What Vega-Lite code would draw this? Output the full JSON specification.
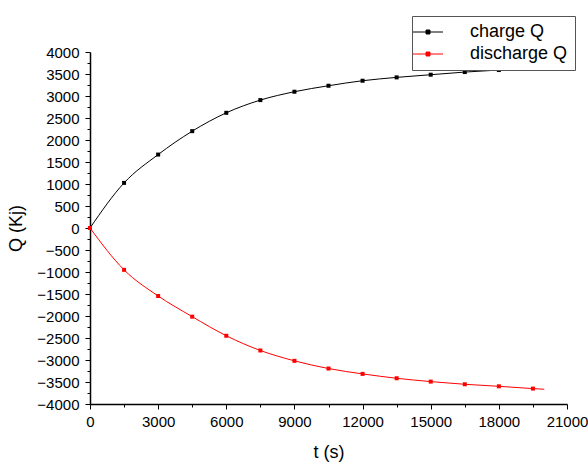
{
  "$schema": "https://vega.github.io/schema/vega-lite/v6.json",
  "width": 477,
  "height": 352,
  "autosize": "none",
  "padding": {"left": 90, "top": 52, "right": 21, "bottom": 58},
  "background": "white",
  "config": {"view": {"stroke": null}, "font": "Liberation Sans"},
  "datasets": {
    "curve": [
      {"series": "charge Q", "t": 0, "Q": 0},
      {"series": "charge Q", "t": 1500, "Q": 1025},
      {"series": "charge Q", "t": 3000, "Q": 1669},
      {"series": "charge Q", "t": 4500, "Q": 2201},
      {"series": "charge Q", "t": 6000, "Q": 2618},
      {"series": "charge Q", "t": 7500, "Q": 2907},
      {"series": "charge Q", "t": 9000, "Q": 3097},
      {"series": "charge Q", "t": 10500, "Q": 3233},
      {"series": "charge Q", "t": 12000, "Q": 3347},
      {"series": "charge Q", "t": 13500, "Q": 3423},
      {"series": "charge Q", "t": 15000, "Q": 3484},
      {"series": "charge Q", "t": 16500, "Q": 3544},
      {"series": "charge Q", "t": 18000, "Q": 3590},
      {"series": "charge Q", "t": 19500, "Q": 3628},
      {"series": "charge Q", "t": 20000, "Q": 3637},
      {"series": "discharge Q", "t": 0, "Q": 0},
      {"series": "discharge Q", "t": 1500, "Q": -951},
      {"series": "discharge Q", "t": 3000, "Q": -1545},
      {"series": "discharge Q", "t": 4500, "Q": -2015},
      {"series": "discharge Q", "t": 6000, "Q": -2449},
      {"series": "discharge Q", "t": 7500, "Q": -2784},
      {"series": "discharge Q", "t": 9000, "Q": -3019},
      {"series": "discharge Q", "t": 10500, "Q": -3194},
      {"series": "discharge Q", "t": 12000, "Q": -3316},
      {"series": "discharge Q", "t": 13500, "Q": -3415},
      {"series": "discharge Q", "t": 15000, "Q": -3491},
      {"series": "discharge Q", "t": 16500, "Q": -3552},
      {"series": "discharge Q", "t": 18000, "Q": -3598},
      {"series": "discharge Q", "t": 19500, "Q": -3650},
      {"series": "discharge Q", "t": 20000, "Q": -3665}
    ],
    "markers": [
      {"series": "charge Q", "t": 0, "Q": 0},
      {"series": "charge Q", "t": 1500, "Q": 1025},
      {"series": "charge Q", "t": 3000, "Q": 1669},
      {"series": "charge Q", "t": 4500, "Q": 2201},
      {"series": "charge Q", "t": 6000, "Q": 2618},
      {"series": "charge Q", "t": 7500, "Q": 2907},
      {"series": "charge Q", "t": 9000, "Q": 3097},
      {"series": "charge Q", "t": 10500, "Q": 3233},
      {"series": "charge Q", "t": 12000, "Q": 3347},
      {"series": "charge Q", "t": 13500, "Q": 3423},
      {"series": "charge Q", "t": 15000, "Q": 3484},
      {"series": "charge Q", "t": 16500, "Q": 3544},
      {"series": "charge Q", "t": 18000, "Q": 3590},
      {"series": "charge Q", "t": 19500, "Q": 3628},
      {"series": "discharge Q", "t": 0, "Q": 0},
      {"series": "discharge Q", "t": 1500, "Q": -951},
      {"series": "discharge Q", "t": 3000, "Q": -1545},
      {"series": "discharge Q", "t": 4500, "Q": -2015},
      {"series": "discharge Q", "t": 6000, "Q": -2449},
      {"series": "discharge Q", "t": 7500, "Q": -2784},
      {"series": "discharge Q", "t": 9000, "Q": -3019},
      {"series": "discharge Q", "t": 10500, "Q": -3194},
      {"series": "discharge Q", "t": 12000, "Q": -3316},
      {"series": "discharge Q", "t": 13500, "Q": -3415},
      {"series": "discharge Q", "t": 15000, "Q": -3491},
      {"series": "discharge Q", "t": 16500, "Q": -3552},
      {"series": "discharge Q", "t": 18000, "Q": -3598},
      {"series": "discharge Q", "t": 19500, "Q": -3650}
    ]
  },
  "resolve": {"axis": {"x": "independent", "y": "independent"}, "legend": {"color": "independent"}},
  "layer": [
    {
      "data": {"name": "curve"},
      "mark": {"type": "line", "interpolate": "monotone", "strokeWidth": 1},
      "encoding": {
        "x": {
          "field": "t", "type": "quantitative",
          "scale": {"domain": [0, 21000], "nice": false, "zero": false},
          "axis": {"orient": "bottom", "values": [1500, 4500, 7500, 10500, 13500, 16500, 19500], "labels": false, "domain": false, "grid": false, "tickSize": 3, "tickColor": "#000", "tickWidth": 1, "title": null}
        },
        "y": {
          "field": "Q", "type": "quantitative",
          "scale": {"domain": [-4000, 4000], "nice": false, "zero": false},
          "axis": {"orient": "left", "values": [-3750, -3250, -2750, -2250, -1750, -1250, -750, -250, 250, 750, 1250, 1750, 2250, 2750, 3250, 3750], "labels": false, "domain": false, "grid": false, "tickSize": 3, "tickColor": "#000", "tickWidth": 1, "title": null}
        },
        "color": {
          "field": "series", "type": "nominal",
          "scale": {"domain": ["charge Q", "discharge Q"], "range": ["#000000", "#ff0000"]},
          "legend": {
            "orient": "none", "legendX": 322, "legendY": -36,
            "title": null,
            "symbolType": "M-2.5,0H2.5M-0.33,-0.33H0.33V0.33H-0.33Z",
            "symbolSize": 144,
            "symbolStrokeWidth": 1,
            "labelFontSize": 18,
            "labelColor": "#000",
            "labelOffset": 33,
            "rowPadding": 4,
            "padding": 7,
            "strokeColor": "#555",
            "fillColor": "white",
            "encode": {"symbols": {"update": {"fill": {"scale": "color", "field": "value"}, "stroke": {"scale": "color", "field": "value"}}}}
          }
        }
      }
    },
    {
      "data": {"name": "markers"},
      "mark": {"type": "point", "shape": "square", "filled": true, "size": 16, "opacity": 1},
      "encoding": {
        "x": {
          "field": "t", "type": "quantitative",
          "axis": {"orient": "bottom", "values": [0, 3000, 6000, 9000, 12000, 15000, 18000, 21000], "format": "d", "grid": false, "tickSize": 5, "tickColor": "#000", "tickWidth": 1, "domainColor": "#000", "domainWidth": 1.5, "labelFontSize": 15, "labelColor": "#000", "labelPadding": 5, "labelFlush": false, "title": "t (s)", "titleFontSize": 18, "titleFontWeight": "normal", "titleColor": "#000", "titlePadding": 14}
        },
        "y": {
          "field": "Q", "type": "quantitative",
          "axis": {"orient": "left", "values": [-4000, -3500, -3000, -2500, -2000, -1500, -1000, -500, 0, 500, 1000, 1500, 2000, 2500, 3000, 3500, 4000], "format": "d", "grid": false, "tickSize": 5, "tickColor": "#000", "tickWidth": 1, "domainColor": "#000", "domainWidth": 1.5, "labelFontSize": 15, "labelColor": "#000", "labelPadding": 6, "labelFlush": false, "title": "Q (Kj)", "titleFontSize": 18, "titleFontWeight": "normal", "titleColor": "#000", "titlePadding": 11}
        },
        "color": {"field": "series", "type": "nominal", "legend": null}
      }
    }
  ]
}
